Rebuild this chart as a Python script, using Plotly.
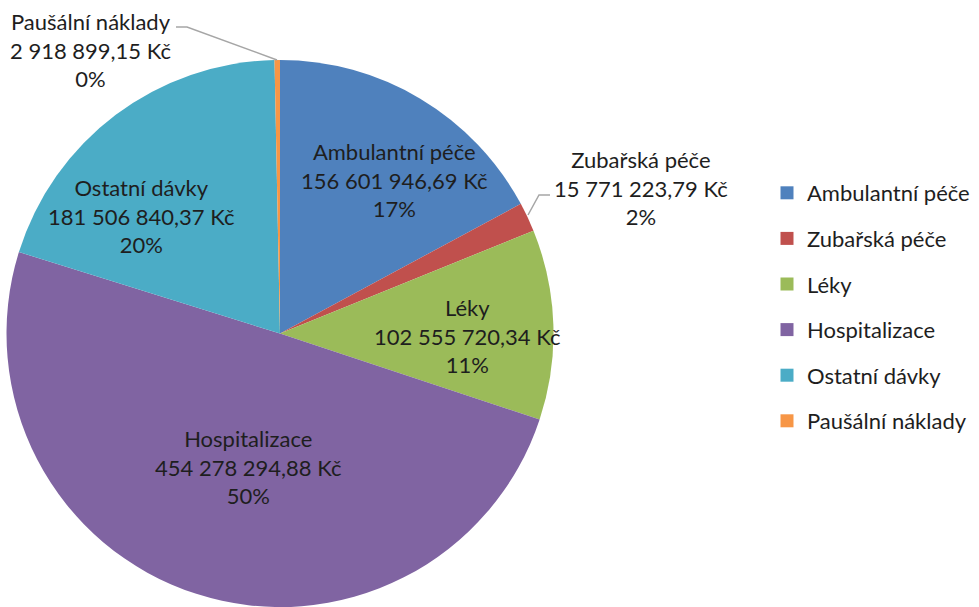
import plotly.graph_objects as go

labels = ["Ambulantní péče", "Zubařská péče", "Léky", "Hospitalizace", "Ostatní dávky", "Paušální náklady"]
values = [156601946.69, 15771223.79, 102555720.34, 454278294.88, 181506840.37, 2918899.15]
colors = ["#4F81BD", "#C0504D", "#9BBB59", "#8064A2", "#4BACC6", "#F79646"]

# label text positions in pixels (centre of text block) - layout only
label_pos = [(394, 180), (641, 188), (467, 336), (248, 467), (141, 216), (90, 50)]

W, H = 979, 607
FONT = "Lato"
FS = 22
TXT = "#1E1E1E"

def fmt(v):
    s = f"{v:,.2f}"
    s = s.replace(",", " ").replace(".", ",")
    return s + " Kč"

total = sum(values)

fig = go.Figure()
fig.add_trace(go.Pie(
    labels=labels, values=values, sort=False, direction="clockwise", rotation=0,
    marker=dict(colors=colors, line=dict(color="white", width=0)),
    textinfo="none", hoverinfo="label+value+percent", showlegend=False,
    domain=dict(x=[6.5 / W, 553.5 / W], y=[0, 547 / H]),
))

for lab, c in zip(labels, colors):
    fig.add_trace(go.Scatter(
        x=[None], y=[None], mode="markers", name=lab, legendgroup=lab,
        marker=dict(symbol="square", size=13, color=c),
    ))

for i, (lab, v) in enumerate(zip(labels, values)):
    pct = round(v / total * 100)
    txt = f"{lab}<br>{fmt(v)}<br>{pct}%"
    x, y = label_pos[i]
    fig.add_annotation(text=txt, xref="paper", yref="paper", x=x / W, y=1 - y / H,
                       xanchor="center", yanchor="middle", showarrow=False,
                       font=dict(family=FONT, size=FS, color=TXT), align="center")

def px(x, y):
    return f"{x / W} {1 - y / H}"

# leader lines for the small outside labels
fig.add_shape(type="path", xref="paper", yref="paper",
              path=f"M {px(528, 215)} L {px(539, 195)} L {px(550, 195)}",
              line=dict(color="#A6A6A6", width=1.5))
fig.add_shape(type="path", xref="paper", yref="paper",
              path=f"M {px(277, 60)} L {px(187, 27)} L {px(176, 27)}",
              line=dict(color="#A6A6A6", width=1.5))

fig.update_layout(
    width=W, height=H, margin=dict(l=0, r=0, t=0, b=0),
    paper_bgcolor="white", plot_bgcolor="white",
    xaxis=dict(visible=False), yaxis=dict(visible=False),
    font=dict(family=FONT, size=FS, color=TXT),
    legend=dict(x=767 / W, y=1 - 307 / H, xanchor="left", yanchor="middle",
                font=dict(family=FONT, size=FS, color=TXT),
                tracegroupgap=14, bgcolor="rgba(0,0,0,0)"),
)
fig.write_html("out.html", config={"displayModeBar": False},
               post_script="document.body.style.margin='0';")
